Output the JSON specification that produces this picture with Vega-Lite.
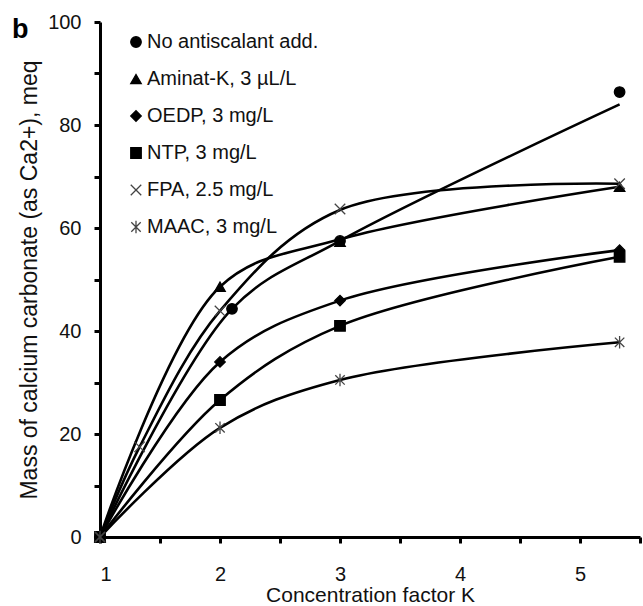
{
  "$schema": "https://vega.github.io/schema/vega-lite/v6.json",
  "width": 540,
  "height": 515,
  "autosize": {"type": "none"},
  "padding": {"left": 100, "top": 22, "right": 3, "bottom": 69},
  "background": "white",
  "config": {
    "view": {"stroke": null},
    "font": "Liberation Sans",
    "axis": {"domainColor": "black", "domainWidth": 3, "tickColor": "black", "tickWidth": 3, "tickSize": 6, "grid": false, "labelFont": "Liberation Sans", "labelFontSize": 20, "labelColor": "#111", "titleFont": "Liberation Sans", "titleFontSize": 21, "titleFontWeight": "normal", "titleColor": "#111"}
  },
  "data": {"values": [
    {"series": "No antiscalant add.", "K": 1, "mass": 0, "curve": 0},
    {"series": "No antiscalant add.", "K": 2.1, "mass": 44.3, "curve": 44.3},
    {"series": "No antiscalant add.", "K": 3, "mass": 57.5, "curve": 57.5},
    {"series": "No antiscalant add.", "K": 5.33, "mass": 86.4, "curve": 84},
    {"series": "Aminat-K, 3 µL/L", "K": 1, "mass": 0, "curve": 0},
    {"series": "Aminat-K, 3 µL/L", "K": 2, "mass": 48.6, "curve": 48.6},
    {"series": "Aminat-K, 3 µL/L", "K": 3, "mass": 57.3, "curve": 57.8},
    {"series": "Aminat-K, 3 µL/L", "K": 5.33, "mass": 68.0, "curve": 68.0},
    {"series": "OEDP, 3 mg/L", "K": 1, "mass": 0, "curve": 0},
    {"series": "OEDP, 3 mg/L", "K": 2, "mass": 34.0, "curve": 34.0},
    {"series": "OEDP, 3 mg/L", "K": 3, "mass": 45.9, "curve": 45.9},
    {"series": "OEDP, 3 mg/L", "K": 5.33, "mass": 55.7, "curve": 55.7},
    {"series": "NTP, 3 mg/L", "K": 1, "mass": 0, "curve": 0},
    {"series": "NTP, 3 mg/L", "K": 2, "mass": 26.6, "curve": 26.6},
    {"series": "NTP, 3 mg/L", "K": 3, "mass": 41.0, "curve": 41.0},
    {"series": "NTP, 3 mg/L", "K": 5.33, "mass": 54.4, "curve": 54.4},
    {"series": "FPA, 2.5 mg/L", "K": 1, "mass": 0, "curve": 0},
    {"series": "FPA, 2.5 mg/L", "K": 1.33, "mass": 17.5, "curve": 17.5},
    {"series": "FPA, 2.5 mg/L", "K": 2, "mass": 43.9, "curve": 43.9},
    {"series": "FPA, 2.5 mg/L", "K": 3, "mass": 63.7, "curve": 63.5},
    {"series": "FPA, 2.5 mg/L", "K": 5.33, "mass": 68.6, "curve": 68.6},
    {"series": "MAAC, 3 mg/L", "K": 1, "mass": 0, "curve": 0},
    {"series": "MAAC, 3 mg/L", "K": 2, "mass": 21.2, "curve": 21.2},
    {"series": "MAAC, 3 mg/L", "K": 3, "mass": 30.5, "curve": 30.5},
    {"series": "MAAC, 3 mg/L", "K": 5.33, "mass": 37.8, "curve": 37.8}
  ]},
  "layer": [
    {
      "mark": {"type": "line", "interpolate": "catmull-rom", "color": "black", "strokeWidth": 2.6},
      "encoding": {
        "x": {"field": "K", "type": "quantitative", "scale": {"domain": [1, 5.5], "nice": false, "zero": false},
          "axis": {"values": [1, 1.5, 2, 2.5, 3, 3.5, 4, 4.5, 5, 5.5], "labelExpr": "datum.value % 1 === 0 ? format(datum.value, 'd') : ''", "labelPadding": 21, "title": "Concentration factor K", "titlePadding": 0}},
        "y": {"field": "curve", "type": "quantitative", "scale": {"domain": [0, 100], "nice": false},
          "axis": {"values": [0, 10, 20, 30, 40, 50, 60, 70, 80, 90, 100], "labelExpr": "datum.value % 20 === 0 ? datum.label : ''", "labelPadding": 13, "title": "Mass of calcium carbonate (as Ca2+), meq", "titlePadding": 6, "titleFontSize": 23}},
        "detail": {"field": "series"}
      }
    },
    {
      "mark": {"type": "point", "opacity": 1, "strokeWidth": 1.3, "size": 110},
      "encoding": {
        "x": {"field": "K", "type": "quantitative"},
        "y": {"field": "mass", "type": "quantitative"},
        "shape": {"field": "series", "type": "nominal",
          "scale": {"domain": ["No antiscalant add.", "Aminat-K, 3 µL/L", "OEDP, 3 mg/L", "NTP, 3 mg/L", "FPA, 2.5 mg/L", "MAAC, 3 mg/L"],
            "range": ["circle", "triangle-up", "diamond", "square", "M-1,-1L1,1M-1,1L1,-1", "M-0.9,-0.9L0.9,0.9M-0.9,0.9L0.9,-0.9M0,-1.2L0,1.2"]},
          "legend": {"orient": "none", "legendX": 26, "legendY": 10, "title": null, "labelFontSize": 20, "labelFont": "Liberation Sans", "labelColor": "#111", "labelLimit": 400, "rowPadding": 17, "labelOffset": 1, "symbolSize": 110, "symbolStrokeWidth": 1.3}},
        "fill": {"field": "series", "type": "nominal",
          "scale": {"domain": ["No antiscalant add.", "Aminat-K, 3 µL/L", "OEDP, 3 mg/L", "NTP, 3 mg/L", "FPA, 2.5 mg/L", "MAAC, 3 mg/L"],
            "range": ["black", "black", "black", "black", "transparent", "transparent"]}},
        "stroke": {"field": "series", "type": "nominal",
          "scale": {"domain": ["No antiscalant add.", "Aminat-K, 3 µL/L", "OEDP, 3 mg/L", "NTP, 3 mg/L", "FPA, 2.5 mg/L", "MAAC, 3 mg/L"],
            "range": ["black", "black", "black", "black", "#444", "#444"]}}
      }
    },
    {
      "data": {"values": [{"panel": "b"}]},
      "mark": {"type": "text", "font": "Liberation Sans", "fontSize": 27, "fontWeight": "bold", "color": "black", "align": "left", "baseline": "alphabetic", "dx": -88, "dy": 16},
      "encoding": {
        "text": {"field": "panel"},
        "x": {"datum": 1},
        "y": {"datum": 100}
      }
    }
  ]
}
